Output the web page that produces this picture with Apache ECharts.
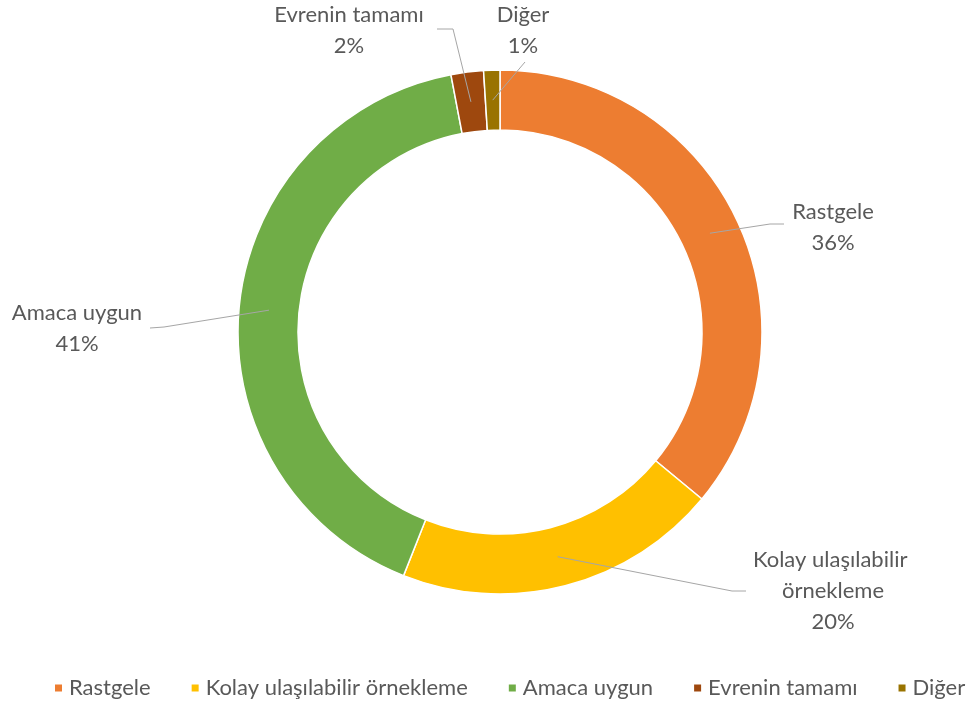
<!DOCTYPE html>
<html>
<head>
<meta charset="utf-8">
<script src="https://cdn.jsdelivr.net/npm/echarts@6/dist/echarts.min.js"></script>
<style>
  html, body { margin: 0; padding: 0; background: #fff; }
  #chart { width: 975px; height: 707px; }
</style>
</head>
<body>
<div id="chart"></div>
<script>
// Örnekleme yöntemlerinin dağılımı (%)
const categories = ['Rastgele', 'Kolay ulaşılabilir örnekleme', 'Amaca uygun', 'Evrenin tamamı', 'Diğer'];
const shares = [36, 20, 41, 2, 1];
const colors = ['#ED7D31', '#FFC000', '#70AD47', '#9E480E', '#997300'];

// Where each label block sits and how its leader line bends on the way to it
const labelPlacement = [
  { x: 833, y: 227, bend: [770, 224], end: [784, 224] },
  { x: 833, y: 591, bend: [732, 591], end: [746, 591] },
  { x: 77,  y: 328, bend: [164, 327], end: [150, 328] },
  { x: 349, y: 30,  bend: [453, 29],  end: [437, 29] },
  { x: 523, y: 30,  bend: [525, 62],  end: [525, 62] }
];

const FONT = 'Lato, "Open Sans", sans-serif';
const data = categories.map((name, i) => ({ name, value: shares[i] }));

const chart = echarts.init(document.getElementById('chart'), null, { renderer: 'canvas' });

chart.setOption({
  backgroundColor: '#ffffff',
  color: colors,
  animation: false,
  legend: {
    top: 677,
    left: 53,
    width: 922,
    padding: 0,
    icon: 'rect',
    itemWidth: 9,
    itemHeight: 9,
    itemGap: 39,
    textStyle: { color: '#595959', fontSize: 22, fontFamily: FONT, padding: [0, 0, 0, 1] },
    data: categories
  },
  series: [
    {
      // ring
      type: 'pie',
      z: 2,
      center: [500, 332],
      radius: [202, 262],
      startAngle: 90,
      clockwise: true,
      silent: true,
      label: { show: false },
      labelLine: { show: false },
      itemStyle: { borderColor: '#ffffff', borderWidth: 1.5 },
      data: data
    },
    {
      // labels, with leader lines starting at the middle of the ring
      type: 'pie',
      z: 5,
      center: [500, 332],
      radius: [0, 232],
      startAngle: 90,
      clockwise: true,
      silent: true,
      percentPrecision: 0,
      avoidLabelOverlap: false,
      itemStyle: { color: 'rgba(0,0,0,0)' },
      emphasis: { disabled: true },
      label: {
        show: true,
        position: 'outside',
        formatter: '{b}\n{d}%',
        color: '#595959',
        fontSize: 22,
        fontFamily: FONT,
        lineHeight: 31,
        width: 200,
        overflow: 'break',
        align: 'center'
      },
      labelLine: {
        show: true,
        length: 10,
        length2: 10,
        lineStyle: { color: '#a6a6a6', width: 1 }
      },
      labelLayout: function (params) {
        const p = labelPlacement[params.dataIndex];
        const start = params.labelLinePoints ? params.labelLinePoints[0] : p.bend;
        return {
          x: p.x,
          y: p.y,
          align: 'center',
          verticalAlign: 'middle',
          labelLinePoints: [start, p.bend, p.end]
        };
      },
      data: data
    }
  ]
});
</script>
</body>
</html>
